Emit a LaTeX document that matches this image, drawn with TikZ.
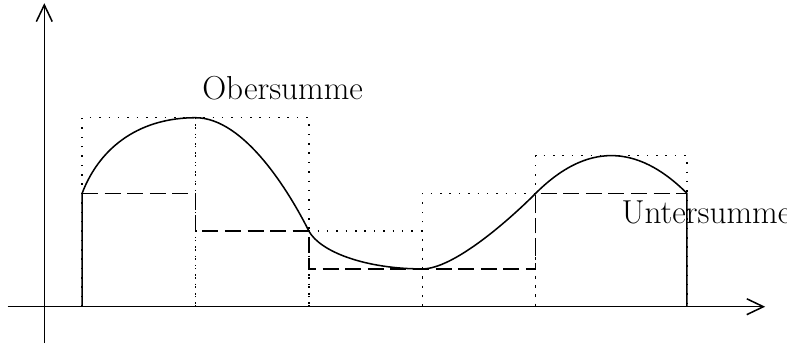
\documentclass[tikz,border=0pt]{standalone}
\usetikzlibrary{arrows.meta}
\begin{document}
\begin{tikzpicture}[
  every path/.style={line width=1.15pt},
  axis/.style={-{Straight Barb[length=0.44cm,width=0.42cm,line width=1.15pt]}},
  upper/.style={dash pattern=on 1.15pt off 5.9pt},
  lower/.style={dash pattern=on 12pt off 5pt},
  lbl/.style={inner sep=0pt,anchor=base west,font=\fontsize{25}{30}\selectfont}
]
\useasboundingbox (-1.172,-1.013) rectangle (19.648,8.114);
% axes
\coordinate (xs) at (-0.97,0);
\coordinate (xe) at (19.07,0);
\coordinate (ys) at (0,-0.96);
\coordinate (ye) at (0,8.03);
\draw[axis] (xs) -- (xe);
\draw[axis] (ys) -- (ye);
% partition points
\coordinate (a0) at (1,0);
\coordinate (a1) at (4,0);
\coordinate (a2) at (7,0);
\coordinate (a3) at (10,0);
\coordinate (a4) at (13,0);
\coordinate (a5) at (17,0);
% upper sum (dotted)
\draw[upper] (a0) rectangle (4,5);
\draw[upper] (a1) rectangle (7,5);
\draw[upper] (a2) rectangle (10,2);
\draw[upper] (a3) rectangle (13,3);
\draw[upper] (a4) rectangle (17,4);
% lower sum (dashed)
\draw[lower] (1,3) -- (4,3) -- (4,2) -- (7,2) -- (7,1) -- (13,1) -- (13,3) -- (17,3);
% function
\coordinate (f0) at (1,3);
\coordinate (f1) at (4,5);
\coordinate (f2) at (7,2);
\coordinate (f3) at (10,1);
\coordinate (f4) at (13,3);
\coordinate (f5) at (17,3);
\draw (a0) -- (f0)
  .. controls (1.5,4.3) and (2.6,5) .. (f1)
  .. controls (5.3,5) and (6.5,3) .. (f2)
  .. controls (7.3,1.45) and (8.5,1) .. (f3)
  .. controls (10.8,1) and (12.2,2.2) .. (f4)
  .. controls (14.33,4.33) and (15.67,4.33) .. (f5)
  -- (a5);
% labels
\node[lbl] (ober) at (4.16,5.49) {Obersumme};
\node[lbl] (unter) at (15.25,2.19) {Untersumme};
\end{tikzpicture}
\end{document}
